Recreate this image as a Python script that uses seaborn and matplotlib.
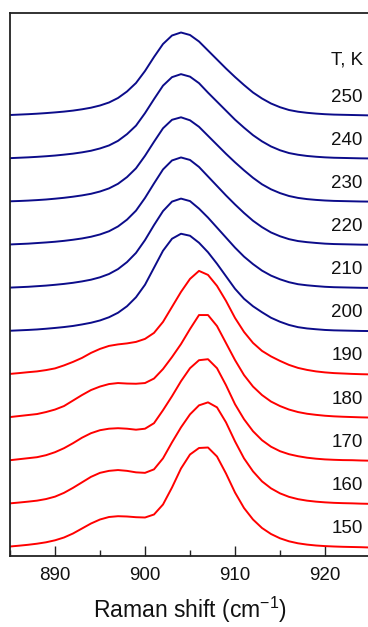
import numpy as np
import pandas as pd
import matplotlib
matplotlib.use("Agg")
import matplotlib.pyplot as plt
from matplotlib.ticker import MultipleLocator
import seaborn as sns

# Raman shift grid (cm^-1)
shift = list(range(885, 926))

# Temperatures (K)
temps = [150, 160, 170, 180, 190, 200, 210, 220, 230, 240, 250]

# Intensities (arb. units), one list per temperature
i150 = [0, 0.8, 1.7, 2.8, 4.2, 6.2, 9, 13, 18, 23, 27, 29.5, 30.3, 30, 29.3, 29, 32, 42, 59, 78, 92,
        98.5, 99, 90, 73, 54, 38.5, 27, 18.5, 12.5, 8.2, 5.2, 3.2, 1.9, 1, 0.4, 0, -0.3, -0.5, -0.7, -1]
i160 = [0, 0.8, 1.7, 2.7, 4.3, 6.7, 10.5, 15.5, 21, 26.5, 30.5, 32.5, 33.3, 32.5, 31, 30.5, 34, 45,
        61, 76, 89, 98, 101, 96, 81, 62, 45, 32, 22, 15, 10, 6.5, 4.2, 2.7, 1.7, 1, 0.5, 0.2, 0, -0.3, -0.5]
i170 = [0, 1, 2, 3, 5, 8, 12, 17, 22.5, 27, 30, 31.5, 32, 31.5, 30.5, 31.5, 37, 50, 64, 79, 92,
        100, 101, 92, 75, 56, 41, 29, 20, 13.5, 9, 6, 4, 2.5, 1.5, 0.8, 0.4, 0.1, 0, -0.3, -0.5]
i180 = [0, 1, 2, 3, 5, 7.5, 11, 16.5, 22, 27, 30.5, 33, 34, 33.5, 33.3, 34, 38.5, 48, 60, 73, 88,
        102, 102, 91, 74, 57, 42, 30.5, 22, 15.5, 11, 7.5, 5, 3.3, 2.2, 1.3, 0.7, 0.3, 0, -0.3, -0.5]
i190 = [0, 0.8, 1.7, 2.5, 3.8, 5.5, 8.5, 12, 16, 21, 25, 28, 29.5, 30.5, 32, 35, 41, 52, 67, 82, 95,
        103, 99, 88, 73, 56, 42, 31, 23, 17.5, 13, 9, 6, 4, 2.5, 1.5, 0.8, 0.4, 0, -0.3, -0.5]
i200 = [0, 0.4, 0.8, 1.3, 2, 2.8, 3.7, 4.8, 6.3, 8, 10.3, 13.5, 18, 24.5, 33.5, 46, 63, 80, 92, 97,
        95, 88, 78.5, 67, 54.5, 42, 32, 24.5, 18.5, 13, 9, 5.8, 3.6, 2.3, 1.5, 0.8, 0.4, 0.2, 0, -0.2, -0.3]
i210 = [0, 0.4, 0.8, 1.4, 2, 2.8, 3.7, 4.8, 6.2, 7.9, 10.3, 13.6, 18.5, 25.5, 34.7, 47.5, 62.5, 76.5, 86,
        89, 86.5, 79, 70, 60, 50, 40, 31, 23.5, 17, 12, 8.3, 5.4, 3.4, 2.3, 1.5, 0.8, 0.4, 0.2, 0, -0.2, -0.3]
i220 = [0, 0.4, 0.8, 1.4, 2, 2.7, 3.6, 4.7, 6, 7.7, 10, 13.2, 18, 24.8, 33.8, 46.5, 61, 75, 84, 87,
        84.5, 77.5, 68, 58.5, 49, 40, 31.5, 23.7, 17.3, 12, 8.2, 5.3, 3.4, 2.3, 1.5, 0.8, 0.4, 0.2, 0, -0.2, -0.3]
i230 = [0, 0.3, 0.7, 1.2, 1.8, 2.6, 3.5, 4.6, 5.9, 7.5, 9.8, 12.9, 17.5, 24.2, 33, 45.5, 59.5, 73, 81.5, 84,
        81, 74.5, 65.5, 56.5, 47.5, 39, 31, 23.5, 17, 12, 8.2, 5.3, 3.4, 2.2, 1.4, 0.8, 0.4, 0.2, 0, -0.2, -0.3]
i240 = [0, 0.4, 0.8, 1.3, 1.9, 2.6, 3.5, 4.5, 5.8, 7.4, 9.7, 12.7, 17.3, 24, 32.5, 45, 59, 72.5, 81, 84,
        81.5, 75, 65.5, 56.5, 47.5, 38.5, 30.5, 23, 16.8, 11.7, 7.9, 5.1, 3.4, 2.2, 1.4, 0.8, 0.4, 0.2, 0, -0.2, -0.3]
i250 = [0, 0.4, 0.8, 1.3, 1.9, 2.6, 3.4, 4.4, 5.7, 7.3, 9.5, 12.5, 17, 23.5, 32, 44, 58, 71, 79.5, 82.5,
        80, 73.5, 64.5, 55.5, 46.5, 38, 30, 22.5, 16.5, 11.5, 7.8, 5, 3.3, 2.2, 1.4, 0.8, 0.4, 0.2, 0, -0.2, -0.4]

series = [i150, i160, i170, i180, i190, i200, i210, i220, i230, i240, i250]

# vertical stacking step between spectra
step = 43.15

rows = []
for k, (t, vals) in enumerate(zip(temps, series)):
    for x, v in zip(shift, vals):
        rows.append({"shift": x, "signal": v + k * step, "T": t})
df = pd.DataFrame(rows)

blue = "#0c0c8a"
red = "#ff0000"
palette = {t: (red if t < 200 else blue) for t in temps}

sns.set_style("ticks")
plt.rcParams["font.family"] = ["Liberation Sans", "DejaVu Sans"]
plt.rcParams["mathtext.fontset"] = "custom"
plt.rcParams["mathtext.rm"] = "Liberation Sans"
plt.rcParams["mathtext.it"] = "Liberation Sans:italic"

fig = plt.figure(figsize=(3.68, 6.27), dpi=100)
ax = fig.add_axes([10 / 368, 71 / 627, 360 / 368, 543 / 627])

sns.lineplot(data=df, x="shift", y="signal", hue="T", palette=palette,
             estimator=None, legend=False, linewidth=1.4, ax=ax)

ax.set_xlim(885, 925)
ax.set_ylim(-9.5, 533.5)
ax.set_yticks([])
ax.xaxis.set_major_locator(MultipleLocator(10))
ax.xaxis.set_minor_locator(MultipleLocator(5))
ax.tick_params(axis="x", which="major", direction="in", length=7, width=1,
               labelsize=13.5, pad=8, colors="#222222", labelcolor="#111111")
ax.tick_params(axis="x", which="minor", direction="in", length=4, width=1, colors="#222222")
for s in ax.spines.values():
    s.set_visible(True)
    s.set_linewidth(1.3)
    s.set_color("#222222")

ax.set_ylabel("")
ax.set_xlabel("Raman shift (cm$^{-1}$)", fontsize=16.5, color="#111111")
ax.xaxis.set_label_coords(0.5, -0.072)
ax.xaxis.label.set_va("top")

for k, t in enumerate(temps):
    ax.text(924.2, k * step + 18, str(t), ha="right", va="center",
            fontsize=13.5, color="#111111")
ax.text(924.2, (len(temps) - 1) * step + 55, "T, K", ha="right", va="center",
        fontsize=13.5, color="#111111")

fig.savefig("out.png", dpi=100)
